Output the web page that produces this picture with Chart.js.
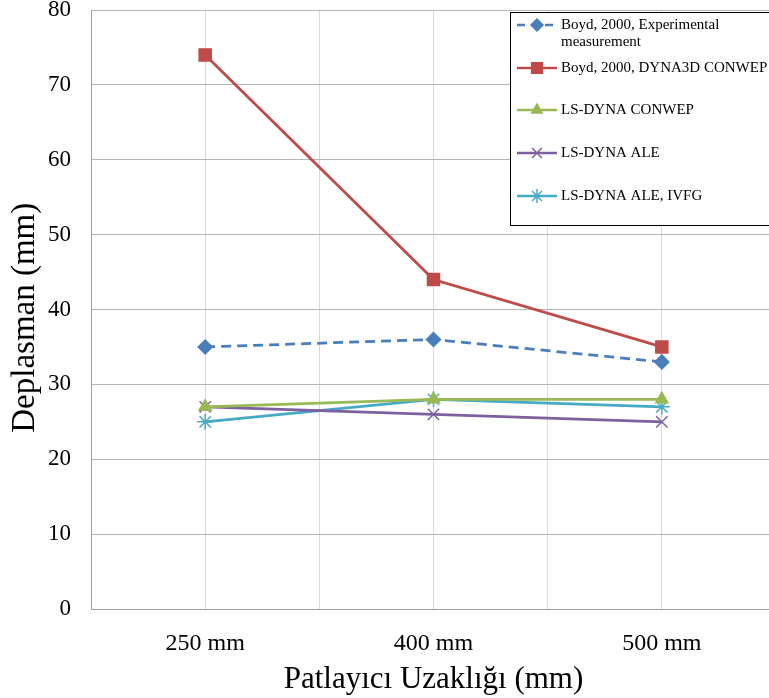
<!DOCTYPE html>
<html lang="tr">
<head>
<meta charset="UTF-8">
<title>Deplasman - Patlayıcı Uzaklığı</title>
<script src="https://cdn.jsdelivr.net/npm/chart.js"></script>
<style>
    html, body { margin: 0; padding: 0; overflow: hidden; background: #fff; }
    #wrap { width: 800px; }
    canvas { display: block; }
</style>
</head>
<body>
<div id="wrap"><canvas id="chart" width="790" height="698"></canvas></div>
<script>
    // categories sit on odd positions of a 0..6 linear axis so gridlines fall on and between them
    const categories = ['250 mm', '400 mm', '500 mm'];
    const catPos = [1, 3, 5];

    const boydExp = [35, 36, 33];
    const boydDyna = [74, 44, 35];
    const lsConwep = [27, 28, 28];
    const lsAle = [27, 26, 25];
    const lsAleIvfg = [25, 28, 27];

    const FONT = '"Liberation Serif", "Times New Roman", serif';

    function pts(vals) {
        return vals.map((v, i) => ({ x: catPos[i], y: v }));
    }

    const series = [
        { label: ['Boyd, 2000, Experimental', 'measurement'], data: boydExp, color: '#4a7ebb', style: 'rectRot', radius: 7, dash: [10, 6] },
        { label: ['Boyd, 2000, DYNA3D CONWEP'], data: boydDyna, color: '#be4b48', style: 'rect', radius: 8.5, dash: [] },
        { label: ['LS-DYNA CONWEP'], data: lsConwep, color: '#98b954', style: 'triangle', radius: 7, dash: [] },
        { label: ['LS-DYNA ALE'], data: lsAle, color: '#7d60a0', style: 'crossRot', radius: 8, dash: [] },
        { label: ['LS-DYNA ALE, IVFG'], data: lsAleIvfg, color: '#46aac5', style: 'star', radius: 8, dash: [] }
    ];

    // legend box drawn by hand, Excel style
    const boxLegend = {
        id: 'boxLegend',
        afterDraw(chart) {
            const ctx = chart.ctx;
            const left = 510, top = 12, right = 800, bottom = 225;
            const rows = [25, 68, 110, 153, 196];
            ctx.save();
            ctx.fillStyle = '#fff';
            ctx.fillRect(left, top, right - left, bottom - top);
            ctx.strokeStyle = '#000';
            ctx.lineWidth = 1;
            ctx.strokeRect(left + 0.5, top + 0.5, right - left, bottom - top);
            ctx.font = '15px ' + FONT;
            ctx.textBaseline = 'middle';
            series.forEach((s, i) => {
                const y = rows[i];
                ctx.strokeStyle = s.color;
                ctx.lineWidth = 2.5;
                ctx.setLineDash(s.dash.length ? [8, 6] : []);
                ctx.beginPath();
                ctx.moveTo(517, y);
                ctx.lineTo(557, y);
                ctx.stroke();
                ctx.setLineDash([]);
                ctx.fillStyle = s.color;
                ctx.lineWidth = 1.5;
                Chart.helpers.drawPoint(ctx, {
                    pointStyle: s.style, radius: s.radius - 1, borderWidth: 1.5
                }, 537, y);
                ctx.fillStyle = '#000';
                s.label.forEach((t, k) => ctx.fillText(t, 561, y + k * 17));
            });
            ctx.restore();
        }
    };

    new Chart(document.getElementById('chart'), {
        type: 'line',
        data: {
            datasets: series.map(s => ({
                label: s.label.join(' '),
                data: pts(s.data),
                borderColor: s.color,
                backgroundColor: s.color,
                borderWidth: 2.75,
                borderDash: s.dash,
                pointStyle: s.style,
                pointRadius: s.radius,
                pointBorderWidth: 1.5,
                pointBorderColor: s.color,
                pointBackgroundColor: s.color,
                tension: 0
            }))
        },
        options: {
            responsive: false,
            animation: false,
            layout: { padding: { top: 10, right: 14, bottom: 0, left: 0 } },
            plugins: { legend: { display: false }, tooltip: { enabled: false } },
            scales: {
                x: {
                    type: 'linear',
                    min: 0,
                    max: 6,
                    afterFit(scale) {
                        scale.height = 89;
                        scale.paddingLeft = 0;
                        scale.paddingRight = 0;
                    },
                    ticks: {
                        stepSize: 1,
                        autoSkip: false,
                        maxRotation: 0,
                        padding: 20,
                        color: '#000',
                        font: { family: FONT, size: 24 },
                        callback: v => {
                            const i = catPos.indexOf(v);
                            return i >= 0 ? categories[i] : '';
                        }
                    },
                    grid: { color: '#d9d9d9', lineWidth: 1, drawTicks: false },
                    border: { color: '#9e9e9e', width: 1 },
                    title: {
                        display: true,
                        text: 'Patlayıcı Uzaklığı (mm)',
                        color: '#000',
                        font: { family: FONT, size: 31 },
                        padding: { top: 2, bottom: 0 }
                    }
                },
                y: {
                    min: 0,
                    max: 80,
                    afterFit(scale) {
                        scale.width = 91;
                        scale.paddingTop = 0;
                        scale.paddingBottom = 0;
                    },
                    ticks: {
                        stepSize: 10,
                        padding: 20,
                        color: '#000',
                        font: { family: FONT, size: 23 }
                    },
                    grid: { color: '#b5b5b5', lineWidth: 1, drawTicks: false },
                    border: { color: '#9e9e9e', width: 1 },
                    title: {
                        display: true,
                        text: 'Deplasman (mm)  ',
                        color: '#000',
                        font: { family: FONT, size: 33 },
                        padding: { top: 6, bottom: 0 }
                    }
                }
            }
        },
        plugins: [boxLegend]
    });
</script>
</body>
</html>
